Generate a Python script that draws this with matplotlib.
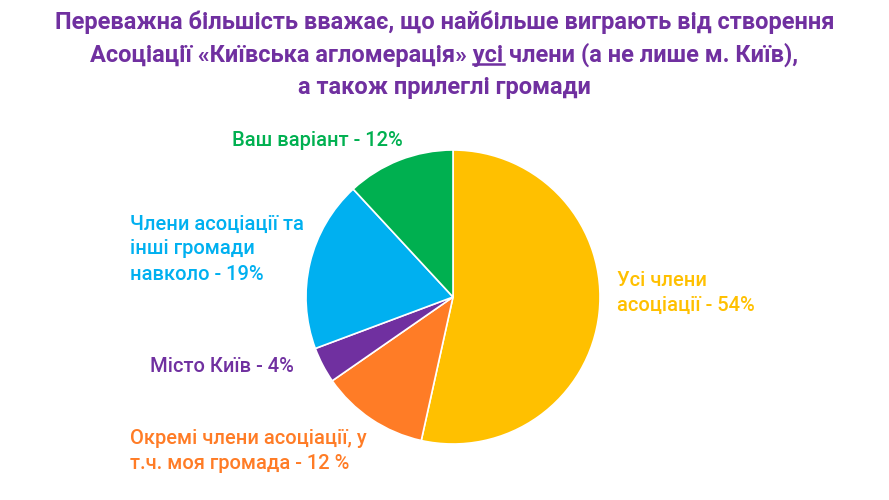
import matplotlib.pyplot as plt

plt.rcParams['font.family'] = ['Roboto', 'DejaVu Sans']

values = [54, 12, 4, 19, 12]
colors = ['#FFC000', '#FF7C26', '#7030A0', '#00B0F0', '#00B050']
labels = ['Усі члени\nасоціації - 54%',
          'Окремі члени асоціації, у\nт.ч. моя громада - 12 %',
          'Місто Київ - 4%',
          'Члени асоціації та\nінші громади\nнавколо - 19%',
          'Ваш варіант - 12%']
label_pos = [(617, 293), (130, 451), (150, 366), (130, 249), (232, 140)]

W, H = 889, 500
fig = plt.figure(figsize=(W / 100, H / 100), dpi=100)
cx, cy, r = 453, 297, 147
ax = fig.add_axes([(cx - r) / W, (H - cy - r) / H, 2 * r / W, 2 * r / H])
ax.pie(values, colors=colors, startangle=90, counterclock=False,
       wedgeprops=dict(edgecolor='white', linewidth=1.2))
ax.set_xlim(-1, 1)
ax.set_ylim(-1, 1)
ax.set_aspect('equal')
ax.axis('off')

for lab, (x, y), c in zip(labels, label_pos, colors):
    fig.text(x / W, 1 - y / H, lab, color=c, fontsize=14.5, fontweight='medium',
             ha='left', va='center', linespacing=1.4)

purple = '#7030A0'
title = ['Переважна більшість вважає, що найбільше виграють від створення',
         'Асоціації «Київська агломерація» усі члени (а не лише м. Київ),',
         'а також прилеглі громади']
ty = [22, 55, 88]
texts = []
for line, y in zip(title, ty):
    t = fig.text(0.5, 1 - y / H, line, color=purple, fontsize=17, fontweight='bold',
                 ha='center', va='center')
    texts.append(t)

# underline the word "усі"
fig.canvas.draw()
rend = fig.canvas.get_renderer()
bb = texts[1].get_window_extent(rend)
prefix = 'Асоціації «Київська агломерація» '
tmp = fig.text(0, 0, prefix, fontsize=17, fontweight='bold')
w1 = tmp.get_window_extent(rend).width
tmp.set_text(prefix + 'усі')
w2 = tmp.get_window_extent(rend).width
tmp.remove()
uy = bb.y0 + 3
fig.add_artist(plt.Line2D([(bb.x0 + w1) / W, (bb.x0 + w2) / W], [uy / H, uy / H],
                          color=purple, linewidth=1.8))

fig.savefig('out.png', dpi=100)
